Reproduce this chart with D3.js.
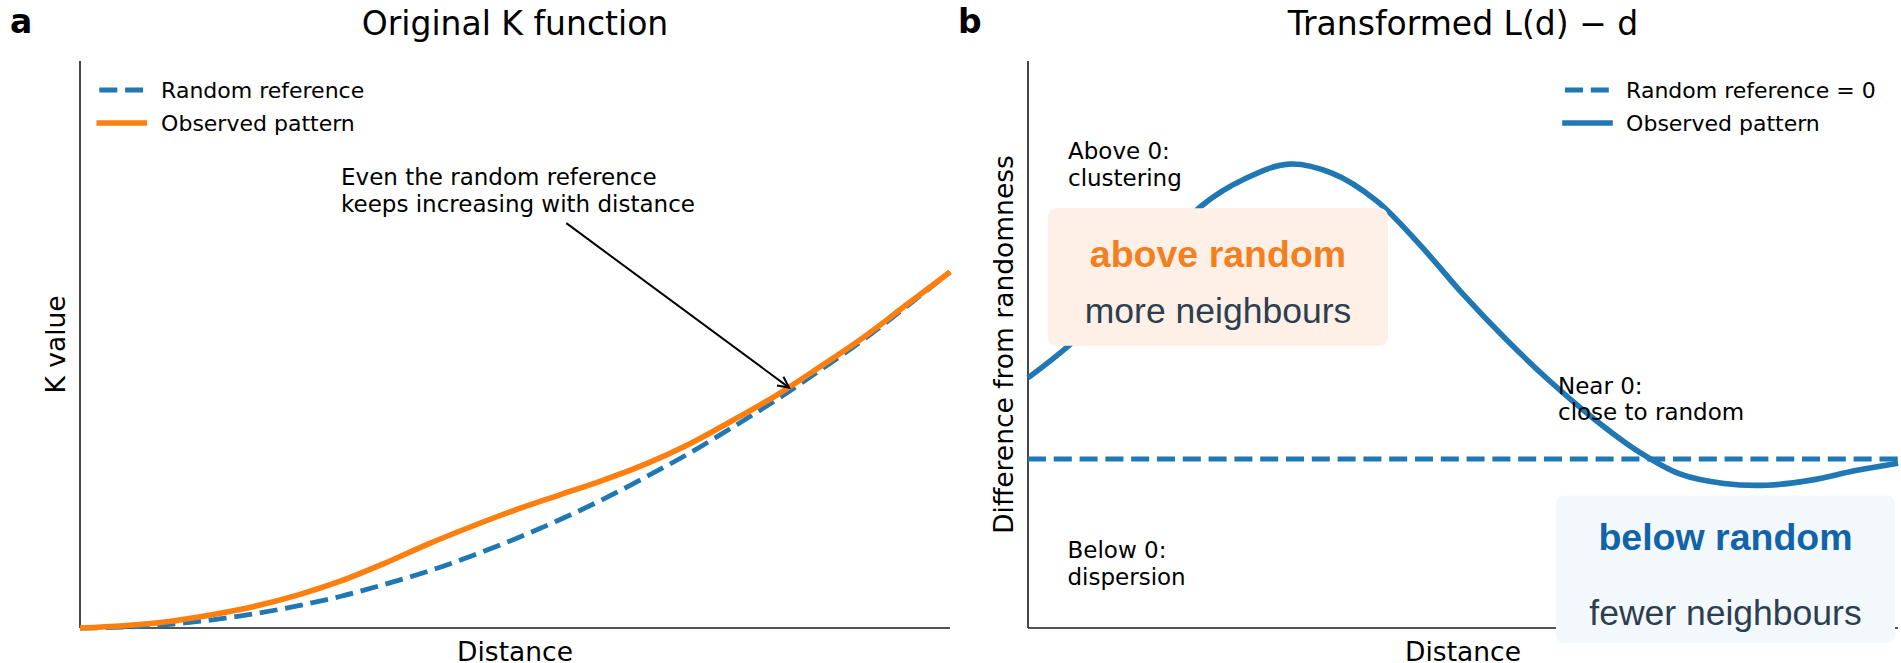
<!DOCTYPE html>
<html>
<head>
<meta charset="utf-8">
<script src="https://cdn.jsdelivr.net/npm/d3@7"></script>
<style>
  body { margin: 0; background: #fff; }
  svg { display: block; }
</style>
</head>
<body>
<svg id="chart" width="1901" height="663"></svg>
<script>
// values
let distance = [0, 0.5, 1, 1.5, 2, 2.5, 3, 3.5, 4, 4.5, 5, 5.5, 6, 6.5, 7, 7.5, 8, 8.5, 9, 9.5, 10]
let kRandom = [0, 0.8, 3, 7, 12.5, 19.5, 28, 38.5, 50, 63.5, 78.5, 95, 113, 133, 154, 177, 201, 227, 254, 283.5, 314]
let kObserved = [0, 2, 5.5, 11.5, 19, 29, 41.5, 57, 74, 89.5, 104, 117, 130, 144.5, 162, 183, 205, 230, 256, 285, 314]
let lRandom = [0, 0, 0, 0, 0, 0, 0, 0, 0, 0, 0, 0, 0, 0, 0, 0, 0, 0, 0, 0, 0]
let lObserved = [0.48, 0.685, 0.945, 1.22, 1.5, 1.66, 1.745, 1.69, 1.53, 1.27, 0.975, 0.705, 0.46, 0.24, 0.05, -0.09, -0.145, -0.155, -0.125, -0.07, -0.025]

let kDomain = [0, 500]
let lDomain = [-1, 2.355]
let arrowFrom = [5.59, 357]
let arrowTo = [8.15, 212]

let blue = '#1f77b4'
let orange = '#ff7f0e'
let ink = '#1a1a1a'
let font = '"DejaVu Sans", sans-serif'
let boxFont = '"Liberation Sans", Arial, sans-serif'

let svg = d3.select('#chart')
svg.append('rect').attr('width', 1901).attr('height', 663).attr('fill', '#fff')

let axTop = 61
let axBottom = 628

function drawFrame(g, x, y, opts) {
  let [x0, x1] = x.range()
  g.append('line')
    .attr('x1', x0).attr('x2', x0).attr('y1', axTop).attr('y2', axBottom)
    .attr('stroke', ink).attr('stroke-width', 1.6)
  g.append('line')
    .attr('x1', x0).attr('x2', x1).attr('y1', axBottom).attr('y2', axBottom)
    .attr('stroke', ink).attr('stroke-width', 1.6)

  g.append('text')
    .attr('x', (x0 + x1) / 2).attr('y', 35)
    .attr('text-anchor', 'middle')
    .style('font', `33px ${font}`)
    .text(opts.title)

  g.append('text')
    .attr('x', opts.tagX).attr('y', 33.3)
    .style('font', `bold 33px ${font}`)
    .text(opts.tag)

  g.append('text')
    .attr('x', (x0 + x1) / 2).attr('y', 661)
    .attr('text-anchor', 'middle')
    .style('font', `26.5px ${font}`)
    .text('Distance')

  g.append('text')
    .attr('transform', `translate(${opts.ylabelX}, ${(axTop + axBottom) / 2}) rotate(-90)`)
    .attr('text-anchor', 'middle')
    .style('font', `26.5px ${font}`)
    .text(opts.ylabel)
}

function drawLegend(g, hx, tx, items) {
  items.forEach((item, i) => {
    let cy = 90 + i * 33
    g.append('line')
      .attr('x1', hx).attr('x2', hx + 45).attr('y1', cy).attr('y2', cy)
      .attr('stroke', item.color)
      .attr('stroke-width', item.dashed ? 4.8 : 5.6)
      .attr('stroke-dasharray', item.dashed ? '18 7.8' : null)
      .attr('stroke-linecap', item.dashed ? 'butt' : 'square')
    g.append('text')
      .attr('x', tx).attr('y', cy + 8.3)
      .style('font', `22px ${font}`)
      .text(item.label)
  })
}

function drawLines(g, rows) {
  rows.forEach(r => {
    g.append('text')
      .attr('x', r[0]).attr('y', r[1])
      .style('font', `23px ${font}`)
      .text(r[2])
  })
}

// panel a
let xL = d3.scaleLinear().domain([0, 10]).range([80, 950])
let yL = d3.scaleLinear().domain(kDomain).range([axBottom, axTop])
let gL = svg.append('g')

drawFrame(gL, xL, yL, {
  title: 'Original K function',
  tag: 'a',
  tagX: 10,
  ylabel: 'K value',
  ylabelX: 65,
})

let lineL = d3.line().curve(d3.curveCatmullRom.alpha(0.5))
let ptsRandom = distance.map((d, i) => [xL(d), yL(kRandom[i])])
let ptsObserved = distance.map((d, i) => [xL(d), yL(kObserved[i])])

gL.append('path')
  .attr('d', lineL(ptsRandom))
  .attr('fill', 'none')
  .attr('stroke', blue)
  .attr('stroke-width', 4.8)
  .attr('stroke-dasharray', '18 7.8')
gL.append('path')
  .attr('d', lineL(ptsObserved))
  .attr('fill', 'none')
  .attr('stroke', orange)
  .attr('stroke-width', 5.6)

drawLegend(gL, 99.3, 161.1, [
  { label: 'Random reference', color: blue, dashed: true },
  { label: 'Observed pattern', color: orange, dashed: false },
])

drawLines(gL, [
  [341, 185, 'Even the random reference'],
  [341, 212, 'keeps increasing with distance'],
])

// arrow
let ax0 = xL(arrowFrom[0]), ay0 = yL(arrowFrom[1])
let ax1 = xL(arrowTo[0]), ay1 = yL(arrowTo[1])
let ang = Math.atan2(ay1 - ay0, ax1 - ax0)
let headLen = 11, headHalf = 5.4
let ux = Math.cos(ang), uy = Math.sin(ang)
gL.append('line')
  .attr('x1', ax0).attr('y1', ay0).attr('x2', ax1).attr('y2', ay1)
  .attr('stroke', '#000').attr('stroke-width', 2)
gL.append('path')
  .attr('d', `M${ax1 - headLen * ux - headHalf * uy},${ay1 - headLen * uy + headHalf * ux}` +
    `L${ax1},${ay1}` +
    `L${ax1 - headLen * ux + headHalf * uy},${ay1 - headLen * uy - headHalf * ux}`)
  .attr('fill', 'none').attr('stroke', '#000').attr('stroke-width', 2)

// panel b
let xR = d3.scaleLinear().domain([0, 10]).range([1028, 1898])
let yR = d3.scaleLinear().domain(lDomain).range([axBottom, axTop])
let gR = svg.append('g')

drawFrame(gR, xR, yR, {
  title: 'Transformed L(d) \u2212 d',
  tag: 'b',
  tagX: 958,
  ylabel: 'Difference from randomness',
  ylabelX: 1013,
})

let lineR = d3.line().curve(d3.curveCatmullRom.alpha(0.5))
gR.append('path')
  .attr('d', lineR(distance.map((d, i) => [xR(d), yR(lRandom[i])])))
  .attr('fill', 'none')
  .attr('stroke', blue)
  .attr('stroke-width', 4.8)
  .attr('stroke-dasharray', '18 7.8')
gR.append('path')
  .attr('d', lineR(distance.map((d, i) => [xR(d), yR(lObserved[i])])))
  .attr('fill', 'none')
  .attr('stroke', blue)
  .attr('stroke-width', 5.6)

drawLegend(gR, 1565, 1626.1, [
  { label: 'Random reference = 0', color: blue, dashed: true },
  { label: 'Observed pattern', color: blue, dashed: false },
])

drawLines(gR, [
  [1068, 159.3, 'Above 0:'],
  [1068, 185.5, 'clustering'],
  [1558, 394, 'Near 0:'],
  [1558, 420, 'close to random'],
  [1067.5, 558, 'Below 0:'],
  [1067.5, 584.5, 'dispersion'],
])

// callout boxes
let boxes = [
  { x: 1048, y: 208.3, w: 340, h: 137.5, fill: '#fef0e6', head: 'above random', headColor: '#f47f20', headY: 266.7, sub: 'more neighbours', subY: 323 },
  { x: 1556, y: 495.5, w: 339, h: 147.5, fill: '#f3f8fc', head: 'below random', headColor: '#1264a8', headY: 550, sub: 'fewer neighbours', subY: 625 },
]
let boxG = gR.selectAll('g.callout')
  .data(boxes)
  .join('g')
  .attr('class', 'callout')
boxG.append('rect')
  .attr('x', d => d.x).attr('y', d => d.y)
  .attr('width', d => d.w).attr('height', d => d.h)
  .attr('rx', 8).attr('ry', 8)
  .attr('fill', d => d.fill)
boxG.append('text')
  .attr('x', d => d.x + d.w / 2).attr('y', d => d.headY)
  .attr('text-anchor', 'middle')
  .attr('fill', d => d.headColor)
  .style('font', `bold 37.5px ${boxFont}`)
  .text(d => d.head)
boxG.append('text')
  .attr('x', d => d.x + d.w / 2).attr('y', d => d.subY)
  .attr('text-anchor', 'middle')
  .attr('fill', '#2c3e50')
  .style('font', `35.5px ${boxFont}`)
  .text(d => d.sub)
</script>
</body>
</html>
